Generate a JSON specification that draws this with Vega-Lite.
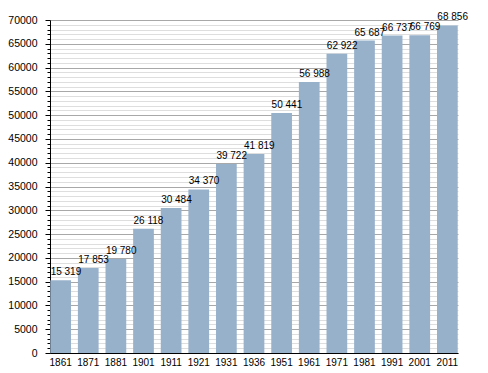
{
  "$schema": "https://vega.github.io/schema/vega-lite/v6.json",
  "autosize": "none",
  "width": 408,
  "height": 333,
  "padding": {"left": 50, "top": 20, "right": 30, "bottom": 20},
  "background": "white",
  "config": {
    "view": {"stroke": null},
    "font": "Liberation Sans",
    "locale": {"number": {"decimal": ".", "thousands": " ", "grouping": [3], "currency": ["", ""]}}
  },
  "data": {
    "values": [
      {"year": "1861", "pop": 15319},
      {"year": "1871", "pop": 17853},
      {"year": "1881", "pop": 19780},
      {"year": "1901", "pop": 26118},
      {"year": "1911", "pop": 30484},
      {"year": "1921", "pop": 34370},
      {"year": "1931", "pop": 39722},
      {"year": "1936", "pop": 41819},
      {"year": "1951", "pop": 50441},
      {"year": "1961", "pop": 56988},
      {"year": "1971", "pop": 62922},
      {"year": "1981", "pop": 65687},
      {"year": "1991", "pop": 66737},
      {"year": "2001", "pop": 66769},
      {"year": "2011", "pop": 68856}
    ]
  },
  "encoding": {
    "x": {
      "field": "year", "type": "ordinal", "sort": null,
      "scale": {"paddingInner": 0.25, "paddingOuter": 0.01},
      "axis": {"title": null, "labelAngle": 0, "ticks": false, "domainColor": "#000000", "domainWidth": 1, "labelFontSize": 10, "labelFontWeight": "normal", "labelColor": "#000000", "labelPadding": 4, "grid": false}
    }
  },
  "layer": [
    {
      "mark": {"type": "bar", "color": "#98b1cb"},
      "encoding": {
        "y": {
          "field": "pop", "type": "quantitative",
          "scale": {"domain": [0, 70000], "nice": false},
          "axis": {"title": null, "values": [0, 5000, 10000, 15000, 20000, 25000, 30000, 35000, 40000, 45000, 50000, 55000, 60000, 65000, 70000], "format": "d", "orient": "left", "grid": true, "gridColor": "#a8a8a8", "gridWidth": 1, "tickSize": 5, "tickColor": "#000000", "domainColor": "#000000", "labelFontSize": 10.5, "labelColor": "#000000", "labelPadding": 8, "zindex": 0}
        }
      }
    },
    {
      "mark": {"type": "text", "align": "left", "baseline": "alphabetic", "dx": -10, "dy": -5, "fontSize": 10, "color": "#000000"},
      "encoding": {
        "y": {
          "field": "pop", "type": "quantitative",
          "axis": {"title": null, "values": [1000, 2000, 3000, 4000, 6000, 7000, 8000, 9000, 11000, 12000, 13000, 14000, 16000, 17000, 18000, 19000, 21000, 22000, 23000, 24000, 26000, 27000, 28000, 29000, 31000, 32000, 33000, 34000, 36000, 37000, 38000, 39000, 41000, 42000, 43000, 44000, 46000, 47000, 48000, 49000, 51000, 52000, 53000, 54000, 56000, 57000, 58000, 59000, 61000, 62000, 63000, 64000, 66000, 67000, 68000, 69000], "orient": "left", "labels": false, "grid": true, "gridColor": "#dedede", "gridWidth": 1, "tickSize": 3, "tickColor": "#000000", "domain": false, "zindex": 0}
        },
        "text": {"field": "pop", "type": "quantitative", "format": ",d"}
      }
    }
  ],
  "resolve": {"axis": {"y": "independent"}}
}
